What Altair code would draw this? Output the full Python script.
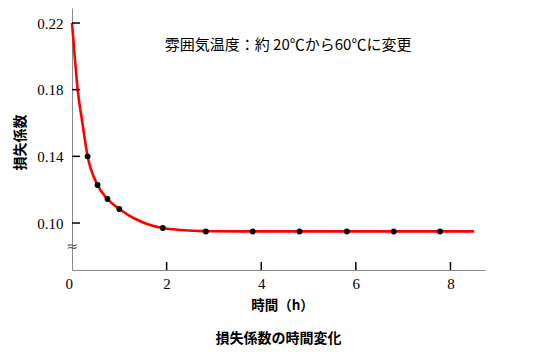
import altair as alt
import pandas as pd

# fitted curve
curve_t = [0.0, 0.06, 0.12, 0.22, 0.33, 0.54, 0.75, 1.0, 1.3, 1.6, 1.92, 2.3, 2.8, 3.5, 8.5]
curve_k = [0.22, 0.199, 0.18, 0.16, 0.14, 0.1228, 0.1144, 0.1084, 0.1030, 0.0993, 0.0970, 0.0958, 0.0951, 0.0950, 0.0950]
# measured points
meas_t = [0.33, 0.54, 0.75, 1.0, 1.92, 2.83, 3.82, 4.81, 5.81, 6.80, 7.78]
meas_k = [0.140, 0.1228, 0.1144, 0.1084, 0.0970, 0.0949, 0.0949, 0.0949, 0.0949, 0.0949, 0.0949]
x_ticks = [0, 2, 4, 6, 8]
y_ticks = [0.10, 0.14, 0.18, 0.22]
note_text = ["雰囲気温度：約 20℃から60℃に変更"]
note_t = [1.96]
note_k = [0.2068]
break_t = [0.0]
break_k = [0.0856]

JP = "Noto Sans CJK JP"
SERIF = "Liberation Serif"

xs = alt.Scale(domain=[0, 8.73], nice=False, zero=False)
ys = alt.Scale(domain=[0.0718, 0.229], nice=False, zero=False)

curve_df = pd.DataFrame({"t": curve_t, "k": curve_k})
meas_df = pd.DataFrame({"t": meas_t, "k": meas_k})
xt_df = pd.DataFrame({"t": [v for v in x_ticks if v > 0]})
yt_df = pd.DataFrame({"k": y_ticks})
note_df = pd.DataFrame({"t": note_t, "k": note_k, "s": note_text})
brk_df = pd.DataFrame({"t": break_t, "k": break_k})

X = alt.X("t:Q", scale=xs, axis=alt.Axis(
    values=x_ticks, tickSize=0, grid=False, domainColor="#8a8a8a", domainWidth=1,
    labelFont=SERIF, labelFontSize=15, labelColor="#000", labelPadding=6,
    labelOffset={"condition": {"test": "datum.value == 0", "value": -7}, "value": 0},
    title="時間（h）", titleFont=JP, titleFontSize=13.5, titleFontWeight="bold",
    titleColor="#000", titleX=210, titleY=35, titleBaseline="middle", titleAlign="center"))
Y = alt.Y("k:Q", scale=ys, axis=alt.Axis(
    values=y_ticks, format=".2f", tickSize=0, grid=False, domainColor="#8a8a8a", domainWidth=1,
    labelFont=SERIF, labelFontSize=15, labelColor="#000", labelPadding=9,
    title="損失係数", titleFont=JP, titleFontSize=14, titleFontWeight="bold",
    titleColor="#000", titleX=-52, titleY=134, titleAngle=270,
    titleBaseline="middle", titleAlign="center"))

line = alt.Chart(curve_df).mark_line(color="#ff0000", strokeWidth=2.6, interpolate="monotone").encode(
    x=X, y=Y)

pts = alt.Chart(meas_df).mark_circle(color="#000", opacity=1, size=34).encode(
    x=alt.X("t:Q", scale=xs), y=alt.Y("k:Q", scale=ys))

yticks = alt.Chart(yt_df).mark_rule(color="#000", strokeWidth=1.5).encode(
    y=alt.Y("k:Q", scale=ys),
    x=alt.value(0), x2=alt.value(8),
)
xticks = alt.Chart(xt_df).mark_rule(color="#000", strokeWidth=1.5).encode(
    x=alt.X("t:Q", scale=xs),
    y=alt.value(262), y2=alt.value(254),
)

note = alt.Chart(note_df).mark_text(align="left", baseline="middle", font=JP, fontSize=15,
                                     fontWeight="normal", color="#000").encode(
    x=alt.X("t:Q", scale=xs), y=alt.Y("k:Q", scale=ys), text="s:N")

brk = alt.Chart(brk_df).mark_text(text="≈", font="DejaVu Sans", fontSize=14, color="#555",
                                  baseline="middle", align="center").encode(
    x=alt.X("t:Q", scale=xs), y=alt.Y("k:Q", scale=ys))

chart = alt.layer(line, pts, yticks, xticks, note, brk).properties(
    width=413, height=262,
    autosize=alt.AutoSizeParams(type="none"),
    padding={"left": 64, "top": 0, "right": 40, "bottom": 84},
    title=alt.TitleParams("損失係数の時間変化", orient="bottom", anchor="middle", font=JP,
                          fontSize=14, fontWeight="bold", color="#000", offset=20),
    background="white",
).configure_view(stroke=None)

chart.save("out.html", embed_options={"renderer": "svg", "actions": False})
